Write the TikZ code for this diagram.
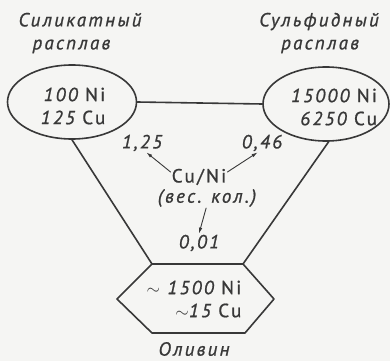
\documentclass[tikz,border=0pt]{standalone}
\usepackage{fontspec}
\setmainfont{PT Sans}
\newfontfamily\drawfont[LetterSpace=12.0,FakeBold=1.0]{PT Sans}
\usepackage{tikz}
\usetikzlibrary{arrows.meta,shapes.geometric}

\definecolor{ink}{HTML}{383838}
\definecolor{paper}{HTML}{F5F5F3}

\begin{document}
\begin{tikzpicture}[x=1pt,y=-1pt,>={Latex[length=6pt,width=3.5pt]},line cap=round,line join=round,
  every node/.style={text=ink,inner sep=1pt,font=\drawfont\itshape\fontsize{19}{23}\selectfont},
  melt/.style={ellipse,draw=ink,line width=1.6pt,inner sep=0pt,minimum width=129pt,minimum height=74pt,align=center},
  edge/.style={draw=ink,line width=1.6pt},
  ratio/.style={draw=ink,line width=0.9pt,->}]
  \fill[paper] (0,0) rectangle (390,361);
  \useasboundingbox (0,0) rectangle (390,361);
  % melts
  \node[melt] (sil) at (72,102) {};
  \node[melt,minimum width=126pt] (sul) at (326,104) {};
  \node[align=right] (siltop) at (73,106) {100 \upshape Ni\\125 \upshape Cu};
  \node[align=right] (sultop) at (334,107) {15000 \upshape Ni\\6250 \upshape Cu};
  \node[align=left] (siltxt) at (80,33) {Силикатный\\\hspace*{14pt}расплав};
  \node[align=left] (sultxt) at (319,33) {Сульфидный\\\hspace*{22pt}расплав};
  % olivine
  \coordinate (hexTL) at (152,264);
  \coordinate (hexTR) at (243,264);
  \draw[edge] (hexTL) -- (hexTR) -- (274,299) -- (245,333) -- (152,333) -- (117,299) -- cycle;
  \node[align=right] (oli) at (194,299) {$\sim$ 1500 \upshape Ni\\$\sim$15 \upshape Cu};
  \node (olitxt) at (194,349) {Оливин};
  \draw[edge] (sil.east) -- (sul.west);
  \draw[edge] (sil.south) -- (hexTL);
  \draw[edge] (sul.-86) -- (hexTR);
  % Cu/Ni ratios
  \node (cuni) at (199,177) {\upshape Cu/Ni};
  \node (wt) at (207,198) {(вес. кол.)};
  \node (r1) at (142,143) {1,25};
  \node (r2) at (262,143) {0,46};
  \node (r3) at (199,243) {0,01};
  \draw[ratio] (cuni.170) -- (r1.-65);
  \draw[ratio] (cuni.10) -- (r2.-115);
  \draw[ratio] (wt.-95) -- (r3.north);
\end{tikzpicture}
\end{document}
